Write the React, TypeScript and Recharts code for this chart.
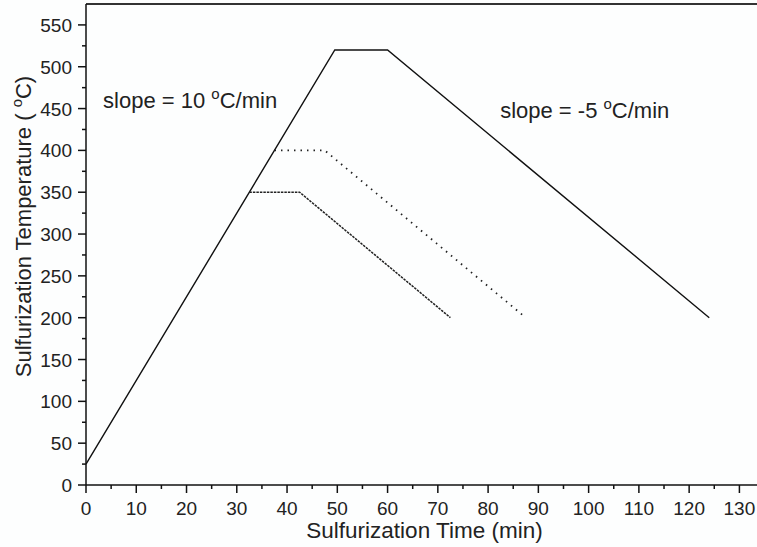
import React from 'react';
import { LineChart, Line, XAxis, YAxis, ReferenceLine, ReferenceDot } from 'recharts';

// solid profile: ramp 10 C/min, hold at 520, cool -5 C/min
const mainTime = [0, 49.5, 60, 124];
const mainTemp = [25, 520, 520, 200];

// dashed profile held at 350
const run350Time = [32.5, 42.5, 72.5];
const run350Temp = [350, 350, 200];

// dotted profile held at 400
const run400Time = [37.5, 47.5, 87.5];
const run400Temp = [400, 400, 200];

const xTicks = [0, 5, 10, 15, 20, 25, 30, 35, 40, 45, 50, 55, 60, 65, 70, 75, 80, 85, 90, 95, 100, 105, 110, 115, 120, 125, 130];
const yTicks = [0, 25, 50, 75, 100, 125, 150, 175, 200, 225, 250, 275, 300, 325, 350, 375, 400, 425, 450, 475, 500, 525, 550];

const toRows = (t: number[], v: number[]) => t.map((time, i) => ({ time, temp: v[i] }));

const FONT = '"Liberation Sans", Arial, sans-serif';

const XTick = ({ x, y, payload }: any) => {
  const major = payload.value % 10 === 0;
  return (
    <g>
      <line x1={x} y1={y} x2={x} y2={y + (major ? 8 : 4)} stroke="#111" strokeWidth={1.5} />
      {major && (
        <text x={x} y={y + 30} textAnchor="middle" fontSize={19} fill="#222" fontFamily={FONT}>
          {payload.value}
        </text>
      )}
    </g>
  );
};

const YTick = ({ x, y, payload }: any) => {
  const major = payload.value % 50 === 0;
  return (
    <g>
      <line x1={x - (major ? 8 : 4)} y1={y} x2={x} y2={y} stroke="#111" strokeWidth={1.5} />
      {major && (
        <text x={x - 14} y={y + 7} textAnchor="end" fontSize={19} fill="#222" fontFamily={FONT}>
          {payload.value}
        </text>
      )}
    </g>
  );
};

const YLabel = ({ viewBox }: any) => {
  const cx = 31;
  const cy = viewBox.y + viewBox.height / 2 - 18;
  return (
    <text x={cx} y={cy} transform={`rotate(-90 ${cx} ${cy})`} textAnchor="middle" fontSize={22} fill="#222" fontFamily={FONT}>
      {'Sulfurization Temperature ( '}
      <tspan fontSize={15} dy={-9}>o</tspan>
      <tspan dy={9}>C)</tspan>
    </text>
  );
};

const XLabel = ({ viewBox }: any) => (
  <text x={viewBox.x + viewBox.width / 2 + 3} y={viewBox.y + 53} textAnchor="middle" fontSize={22.5} fill="#222" fontFamily={FONT}>
    Sulfurization Time (min)
  </text>
);

const slopeLabel = (value: string) => ({ viewBox }: any) => (
  <text x={viewBox.x} y={viewBox.y} fontSize={22} fill="#222" fontFamily={FONT}>
    {`slope = ${value} `}
    <tspan fontSize={15} dy={-9}>o</tspan>
    <tspan dy={9}>C/min</tspan>
  </text>
);

export default function App() {
  return (
    <div style={{ position: 'absolute', left: 0, top: 0, width: 757, height: 547, background: '#fdfefe' }}>
      <LineChart width={757} height={547} margin={{ top: 4, right: 0, left: 0, bottom: 0 }}>
        <XAxis
          type="number"
          dataKey="time"
          domain={[0, 133.5]}
          allowDataOverflow
          ticks={xTicks}
          interval={0}
          tickLine={false}
          tickSize={0}
          tickMargin={0}
          tick={<XTick />}
          axisLine={{ stroke: '#111', strokeWidth: 1.5 }}
          height={62}
          label={{ content: <XLabel /> }}
        />
        <YAxis
          type="number"
          domain={[0, 575]}
          allowDataOverflow
          ticks={yTicks}
          interval={0}
          tickLine={false}
          tickSize={0}
          tickMargin={0}
          tick={<YTick />}
          axisLine={{ stroke: '#111', strokeWidth: 1.5 }}
          width={86}
          label={{ content: <YLabel /> }}
        />
        <ReferenceLine y={575} stroke="#333" strokeWidth={2} />
        <ReferenceDot x={3.4} y={450.5} r={0} stroke="none" label={{ content: slopeLabel('10') }} />
        <ReferenceDot x={82.4} y={439} r={0} stroke="none" label={{ content: slopeLabel('-5') }} />
        <Line data={toRows(mainTime, mainTemp)} dataKey="temp" type="linear" stroke="#111" strokeWidth={1.4} dot={false} isAnimationActive={false} />
        <Line data={toRows(run350Time, run350Temp)} dataKey="temp" type="linear" stroke="#222" strokeWidth={1.5} strokeDasharray="2.5 1" dot={false} isAnimationActive={false} />
        <Line data={toRows(run400Time, run400Temp)} dataKey="temp" type="linear" stroke="#222" strokeWidth={1.8} strokeDasharray="1.5 5" dot={false} isAnimationActive={false} />
      </LineChart>
    </div>
  );
}
